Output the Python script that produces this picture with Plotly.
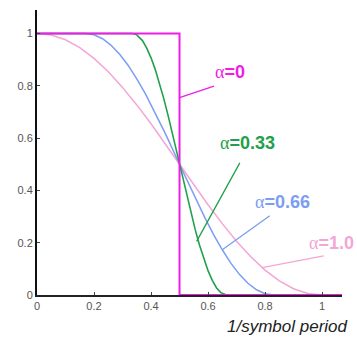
import plotly.graph_objects as go

# Raised-cosine spectra for several roll-off factors (values read per curve)
x_a0 = [0.0, 0.5, 0.5, 1.07]
y_a0 = [1.0, 1.0, 0.0, 0.0]

x_a33 = [0.0, 0.335, 0.35, 0.37, 0.385, 0.40, 0.415, 0.43, 0.445, 0.46, 0.48, 0.50,
         0.52, 0.54, 0.555, 0.57, 0.585, 0.60, 0.615, 0.63, 0.645, 0.665, 1.07]
y_a33 = [1.0, 1.0, 0.995, 0.973, 0.944, 0.907, 0.862, 0.809, 0.75, 0.686, 0.595, 0.50,
         0.405, 0.314, 0.25, 0.191, 0.138, 0.093, 0.056, 0.027, 0.009, 0.0, 0.0]

x_a66 = [0.0, 0.17, 0.20, 0.23, 0.26, 0.29, 0.32, 0.35, 0.38, 0.41, 0.45, 0.50,
         0.55, 0.59, 0.62, 0.65, 0.68, 0.71, 0.74, 0.77, 0.80, 0.83, 1.07]
y_a66 = [1.0, 1.0, 0.995, 0.980, 0.955, 0.921, 0.878, 0.827, 0.770, 0.707, 0.618, 0.50,
         0.382, 0.293, 0.230, 0.173, 0.122, 0.079, 0.045, 0.020, 0.005, 0.0, 0.0]

x_a1 = [0.0, 0.05, 0.1, 0.15, 0.2, 0.25, 0.3, 0.35, 0.4, 0.45, 0.5,
        0.55, 0.6, 0.65, 0.7, 0.75, 0.8, 0.85, 0.9, 0.95, 1.0, 1.07]
y_a1 = [1.0, 0.994, 0.976, 0.946, 0.905, 0.854, 0.794, 0.727, 0.655, 0.578, 0.50,
        0.422, 0.345, 0.273, 0.206, 0.146, 0.095, 0.054, 0.024, 0.006, 0.0, 0.0]

x_ticks = [0, 0.2, 0.4, 0.6, 0.8, 1]
y_ticks = [0, 0.2, 0.4, 0.6, 0.8, 1]

c_a0 = "#ee1ee6"
c_a33 = "#22a04a"
c_a66 = "#7b9ef2"
c_a1 = "#f4a6d4"

fig = go.Figure()
fig.add_trace(go.Scatter(x=x_a1, y=y_a1, mode="lines", line=dict(color=c_a1, width=1.5)))
fig.add_trace(go.Scatter(x=x_a66, y=y_a66, mode="lines", line=dict(color=c_a66, width=1.5)))
fig.add_trace(go.Scatter(x=x_a33, y=y_a33, mode="lines", line=dict(color=c_a33, width=1.6)))
fig.add_trace(go.Scatter(x=x_a0, y=y_a0, mode="lines", line=dict(color=c_a0, width=2)))


def label(a_text):
    return ("<span style='font-family:Liberation Serif;font-weight:normal'>\u03b1</span>"
            "<b>=" + a_text + "</b>")


# (label, colour, leader tip x, tip y, tail offset px, text x, text y)
labels = [
    ("0", c_a0, 0.5, 0.755, 36, -12, 0.618, 0.854),
    ("0.33", c_a33, 0.56, 0.205, 44, -80, 0.635, 0.582),
    ("0.66", c_a66, 0.65, 0.173, 49, -35, 0.758, 0.356),
    ("1.0", c_a1, 0.79, 0.105, 63, -12, 0.947, 0.199),
]
for txt, col, tx, ty, ax, ay, lx, ly in labels:
    fig.add_annotation(x=tx, y=ty, ax=ax, ay=ay, text="", showarrow=True,
                       arrowhead=0, arrowwidth=1.3, arrowcolor=col, standoff=0, startstandoff=0)
    fig.add_annotation(x=lx, y=ly, text=label(txt), showarrow=False,
                       xanchor="left", yanchor="middle",
                       font=dict(family="Liberation Sans", size=18, color=col))

fig.add_annotation(xref="paper", yref="paper", x=1.026, y=-0.112, xanchor="right", yanchor="middle",
                   text="<i>1/symbol period</i>", showarrow=False,
                   font=dict(family="Liberation Sans", size=17, color="#222222"))

fig.update_layout(
    width=357, height=337,
    margin=dict(l=37, r=15, t=10, b=42),
    paper_bgcolor="white", plot_bgcolor="white",
    showlegend=False,
    xaxis=dict(range=[0, 1.07], tickvals=x_ticks, ticktext=[f"{v:g}" for v in x_ticks],
               showgrid=False, zeroline=False, showline=True, linecolor="#222222", linewidth=2,
               ticks="inside", ticklen=3, tickcolor="#444444",
               tickfont=dict(family="Liberation Sans", size=11, color="#555555")),
    yaxis=dict(range=[0, 1.09], tickvals=y_ticks, ticktext=[f"{v:g}" for v in y_ticks],
               showgrid=False, zeroline=False, showline=True, linecolor="#111111", linewidth=2,
               ticks="inside", ticklen=3, tickcolor="#444444",
               tickfont=dict(family="Liberation Sans", size=11, color="#555555")),
)

fig.write_html("out.html")
